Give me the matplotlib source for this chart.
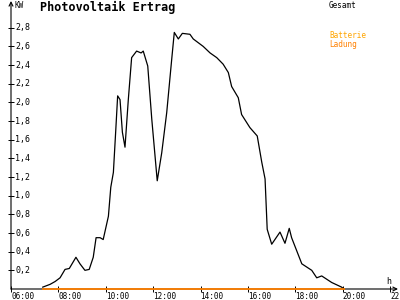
import matplotlib
matplotlib.use('Agg')
import matplotlib.pyplot as plt

# Data (hour of day, kW)
hours = [7.34, 7.65, 7.86, 8.07, 8.28, 8.46, 8.74, 8.91, 9.12, 9.30, 9.47, 9.59,
         9.76, 9.89, 10.11, 10.21, 10.32, 10.42, 10.50, 10.60, 10.70, 10.81, 10.95,
         11.09, 11.30, 11.49, 11.58, 11.77, 11.94, 12.17, 12.36, 12.57, 12.78,
         12.89, 13.06, 13.23, 13.55, 13.69, 14.11, 14.40, 14.68, 14.95, 15.17,
         15.31, 15.59, 15.73, 16.08, 16.39, 16.58, 16.72, 16.81, 17.00, 17.35,
         17.56, 17.74, 17.84, 18.27, 18.69, 18.90, 19.11, 19.53, 19.95, 20.05]
gesamt_kw = [0.02, 0.05, 0.08, 0.12, 0.21, 0.22, 0.34, 0.27, 0.20, 0.21, 0.34, 0.55,
             0.55, 0.53, 0.78, 1.09, 1.25, 1.70, 2.07, 2.03, 1.68, 1.52, 2.03,
             2.48, 2.55, 2.53, 2.55, 2.39, 1.82, 1.16, 1.46, 1.89, 2.46,
             2.75, 2.68, 2.74, 2.73, 2.68, 2.60, 2.53, 2.48, 2.41, 2.32,
             2.17, 2.05, 1.87, 1.73, 1.64, 1.36, 1.18, 0.64, 0.48, 0.61,
             0.49, 0.65, 0.55, 0.27, 0.20, 0.12, 0.14, 0.07, 0.02, 0.0]
batterie_hours = [7.34, 20.05]
batterie_kw = [0.0, 0.0]

y_ticks = [0.2, 0.4, 0.6, 0.8, 1.0, 1.2, 1.4, 1.6, 1.8, 2.0, 2.2, 2.4, 2.6, 2.8]
x_ticks = [6, 8, 10, 12, 14, 16, 18, 20, 22]
x_labels = ['06:00', '08:00', '10:00', '12:00', '14:00', '16:00', '18:00', '20:00', '22:00']

mono = 'DejaVu Sans Mono'
fig = plt.figure(figsize=(4, 3), dpi=100)
ax = fig.add_axes([11/400, 11/300, 387/400, 288/300])
ax.set_xlim(6, 6 + 387/23.7)
ax.set_ylim(0, 288/93.3)
for s in ax.spines.values():
    s.set_visible(False)

# axes with arrow heads
ax.annotate('', xy=(1, 0), xytext=(0, 0), xycoords='axes fraction',
            arrowprops=dict(arrowstyle='->', lw=0.8, color='black',
                            mutation_scale=7, shrinkA=0, shrinkB=0))
ax.annotate('', xy=(0, 1), xytext=(0, 0), xycoords='axes fraction',
            arrowprops=dict(arrowstyle='->', lw=0.8, color='black',
                            mutation_scale=7, shrinkA=0, shrinkB=0))

ax.plot(hours, gesamt_kw, color='black', lw=0.9, clip_on=False)
ax.plot(batterie_hours, batterie_kw, color='#FF8000', lw=1.3, clip_on=False, zorder=5)

ax.set_yticks(y_ticks)
ax.set_yticklabels([])
ax.tick_params(axis='y', direction='inout', length=4.3, width=0.7)
for v in y_ticks:
    ax.text(4/387, v, f'{v:.1f}'.replace('.', ','), transform=ax.get_yaxis_transform(),
            ha='left', va='center', fontsize=6, family=mono)

ax.set_xticks(x_ticks)
ax.set_xticklabels(x_labels, fontsize=5.5, family=mono, ha='left')
ax.tick_params(axis='x', direction='inout', length=3.8, width=0.7, pad=0)

fig.text(40/400, 1 - 7/300, 'Photovoltaik Ertrag', fontsize=8.5, fontweight='bold',
         family=mono, va='center', ha='left')
fig.text(14/400, 1 - 6/300, 'KW', fontsize=5.5, family=mono, va='center', ha='left')
fig.text(329/400, 1 - 5/300, 'Gesamt', fontsize=5.5, family=mono, va='center', ha='left')
fig.text(329/400, 1 - 36/300, 'Batterie', fontsize=5.5, family=mono, va='center',
         ha='left', color='#FFA500')
fig.text(329/400, 1 - 44/300, 'Ladung', fontsize=5.5, family=mono, va='center',
         ha='left', color='#FF8000')
fig.text(386/400, 1 - 282/300, 'h', fontsize=6, family=mono, va='center', ha='left')

fig.savefig('out.png', dpi=100)
